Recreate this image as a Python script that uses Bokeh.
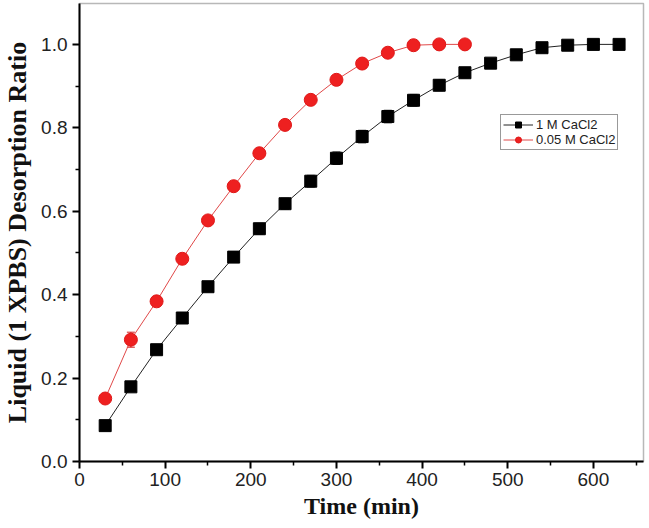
from bokeh.plotting import figure
from bokeh.models import (ColumnDataSource, Whisker, TeeHead, Legend, LegendItem,
                          Range1d, FixedTicker, PrintfTickFormatter)
from bokeh.embed import file_html
from bokeh.resources import INLINE

# ---- data ----
time_1m = [30, 60, 90, 120, 150, 180, 210, 240, 270, 300, 330, 360, 390, 420, 450,
           480, 510, 540, 570, 600, 630]
ratio_1m = [0.086, 0.179, 0.268, 0.344, 0.419, 0.490, 0.558, 0.618, 0.672, 0.727, 0.779,
            0.827, 0.866, 0.902, 0.932, 0.955, 0.975, 0.992, 0.998, 1.0, 1.0]
err_1m = [0.005, 0.007, 0.008, 0.009, 0.011, 0.012, 0.013, 0.013, 0.014, 0.015, 0.015,
          0.015, 0.014, 0.013, 0.012, 0.008, 0.006, 0.005, 0.004, 0.003, 0.003]

time_005m = [30, 60, 90, 120, 150, 180, 210, 240, 270, 300, 330, 360, 390, 420, 450]
ratio_005m = [0.151, 0.292, 0.384, 0.486, 0.578, 0.660, 0.739, 0.807, 0.867, 0.915,
              0.954, 0.980, 0.998, 1.0, 1.0]
err_005m = [0.005, 0.018, 0.010, 0.012, 0.008, 0.008, 0.008, 0.008, 0.006, 0.006,
            0.005, 0.005, 0.004, 0.003, 0.003]

x_ticks = [0, 100, 200, 300, 400, 500, 600]
x_minor = [50, 150, 250, 350, 450, 550, 650]
y_ticks = [0.0, 0.2, 0.4, 0.6, 0.8, 1.0]
y_minor = [0.1, 0.3, 0.5, 0.7, 0.9]

labels = ["1 M CaCl2", "0.05 M CaCl2"]

# ---- figure ----
p = figure(width=646, height=524, output_backend="svg", toolbar_location=None,
           x_range=Range1d(0, 658.5), y_range=Range1d(0, 1.098),
           min_border_left=76, min_border_right=3, min_border_top=3, min_border_bottom=63)

p.xgrid.visible = False
p.ygrid.visible = False
p.outline_line_color = "#b8b8b8"
p.outline_line_width = 1.5
p.background_fill_color = "white"
p.border_fill_color = "white"

for ax in (p.xaxis[0], p.yaxis[0]):
    ax.axis_line_width = 2
    ax.axis_line_color = "black"
    ax.major_tick_line_width = 2
    ax.minor_tick_line_width = 1.5
    ax.major_tick_out = 7
    ax.major_tick_in = 0
    ax.minor_tick_out = 4
    ax.minor_tick_in = 0
    ax.major_label_text_font = "Liberation Sans"
    ax.major_label_text_font_size = "19px"
    ax.major_label_text_color = "#222222"
    ax.axis_label_text_font = "Liberation Serif"
    ax.axis_label_text_font_style = "bold"
    ax.axis_label_text_color = "#111111"

p.xaxis[0].axis_label_text_font_size = "24px"
p.yaxis[0].axis_label_text_font_size = "26px"
p.xaxis[0].ticker = FixedTicker(ticks=x_ticks, minor_ticks=x_minor)
p.yaxis[0].ticker = FixedTicker(ticks=y_ticks, minor_ticks=y_minor)
p.yaxis[0].formatter = PrintfTickFormatter(format="%.1f")
p.xaxis[0].axis_label = "Time (min)"
p.yaxis[0].axis_label = "Liquid (1 XPBS) Desorption Ratio"
p.xaxis[0].major_label_standoff = 4
p.yaxis[0].major_label_standoff = 5
p.xaxis[0].axis_label_standoff = 4
p.yaxis[0].axis_label_standoff = 6

src1 = ColumnDataSource(dict(x=time_1m, y=ratio_1m,
                             lo=[a - b for a, b in zip(ratio_1m, err_1m)],
                             hi=[a + b for a, b in zip(ratio_1m, err_1m)]))
src2 = ColumnDataSource(dict(x=time_005m, y=ratio_005m,
                             lo=[a - b for a, b in zip(ratio_005m, err_005m)],
                             hi=[a + b for a, b in zip(ratio_005m, err_005m)]))

l1 = p.line("x", "y", source=src1, line_color="#222222", line_width=1)
l2 = p.line("x", "y", source=src2, line_color="#e04848", line_width=1)

for src, col in ((src1, "#111111"), (src2, "#d02020")):
    w = Whisker(source=src, base="x", upper="hi", lower="lo", line_color=col, line_width=1,
                upper_head=TeeHead(size=8, line_color=col, line_width=1),
                lower_head=TeeHead(size=8, line_color=col, line_width=1))
    p.add_layout(w)

m1 = p.scatter("x", "y", source=src1, marker="square", size=12,
               fill_color="black", line_color="black")
m2 = p.scatter("x", "y", source=src2, marker="circle", size=13,
               fill_color="#ee2020", line_color="#e01818")

legend = Legend(items=[LegendItem(label=labels[0], renderers=[l1, m1]),
                       LegendItem(label=labels[1], renderers=[l2, m2])],
                location=(421, 311))
legend.label_text_font = "Liberation Sans"
legend.label_text_font_size = "13px"
legend.label_text_color = "#222222"
legend.border_line_color = "#333333"
legend.border_line_width = 1
legend.padding = 2
legend.spacing = 0
legend.margin = 0
legend.label_height = 15
legend.glyph_height = 15
legend.glyph_width = 30
legend.label_standoff = 3
legend.background_fill_alpha = 1
p.add_layout(legend)

open("out.html", "w").write(file_html(p, INLINE))
